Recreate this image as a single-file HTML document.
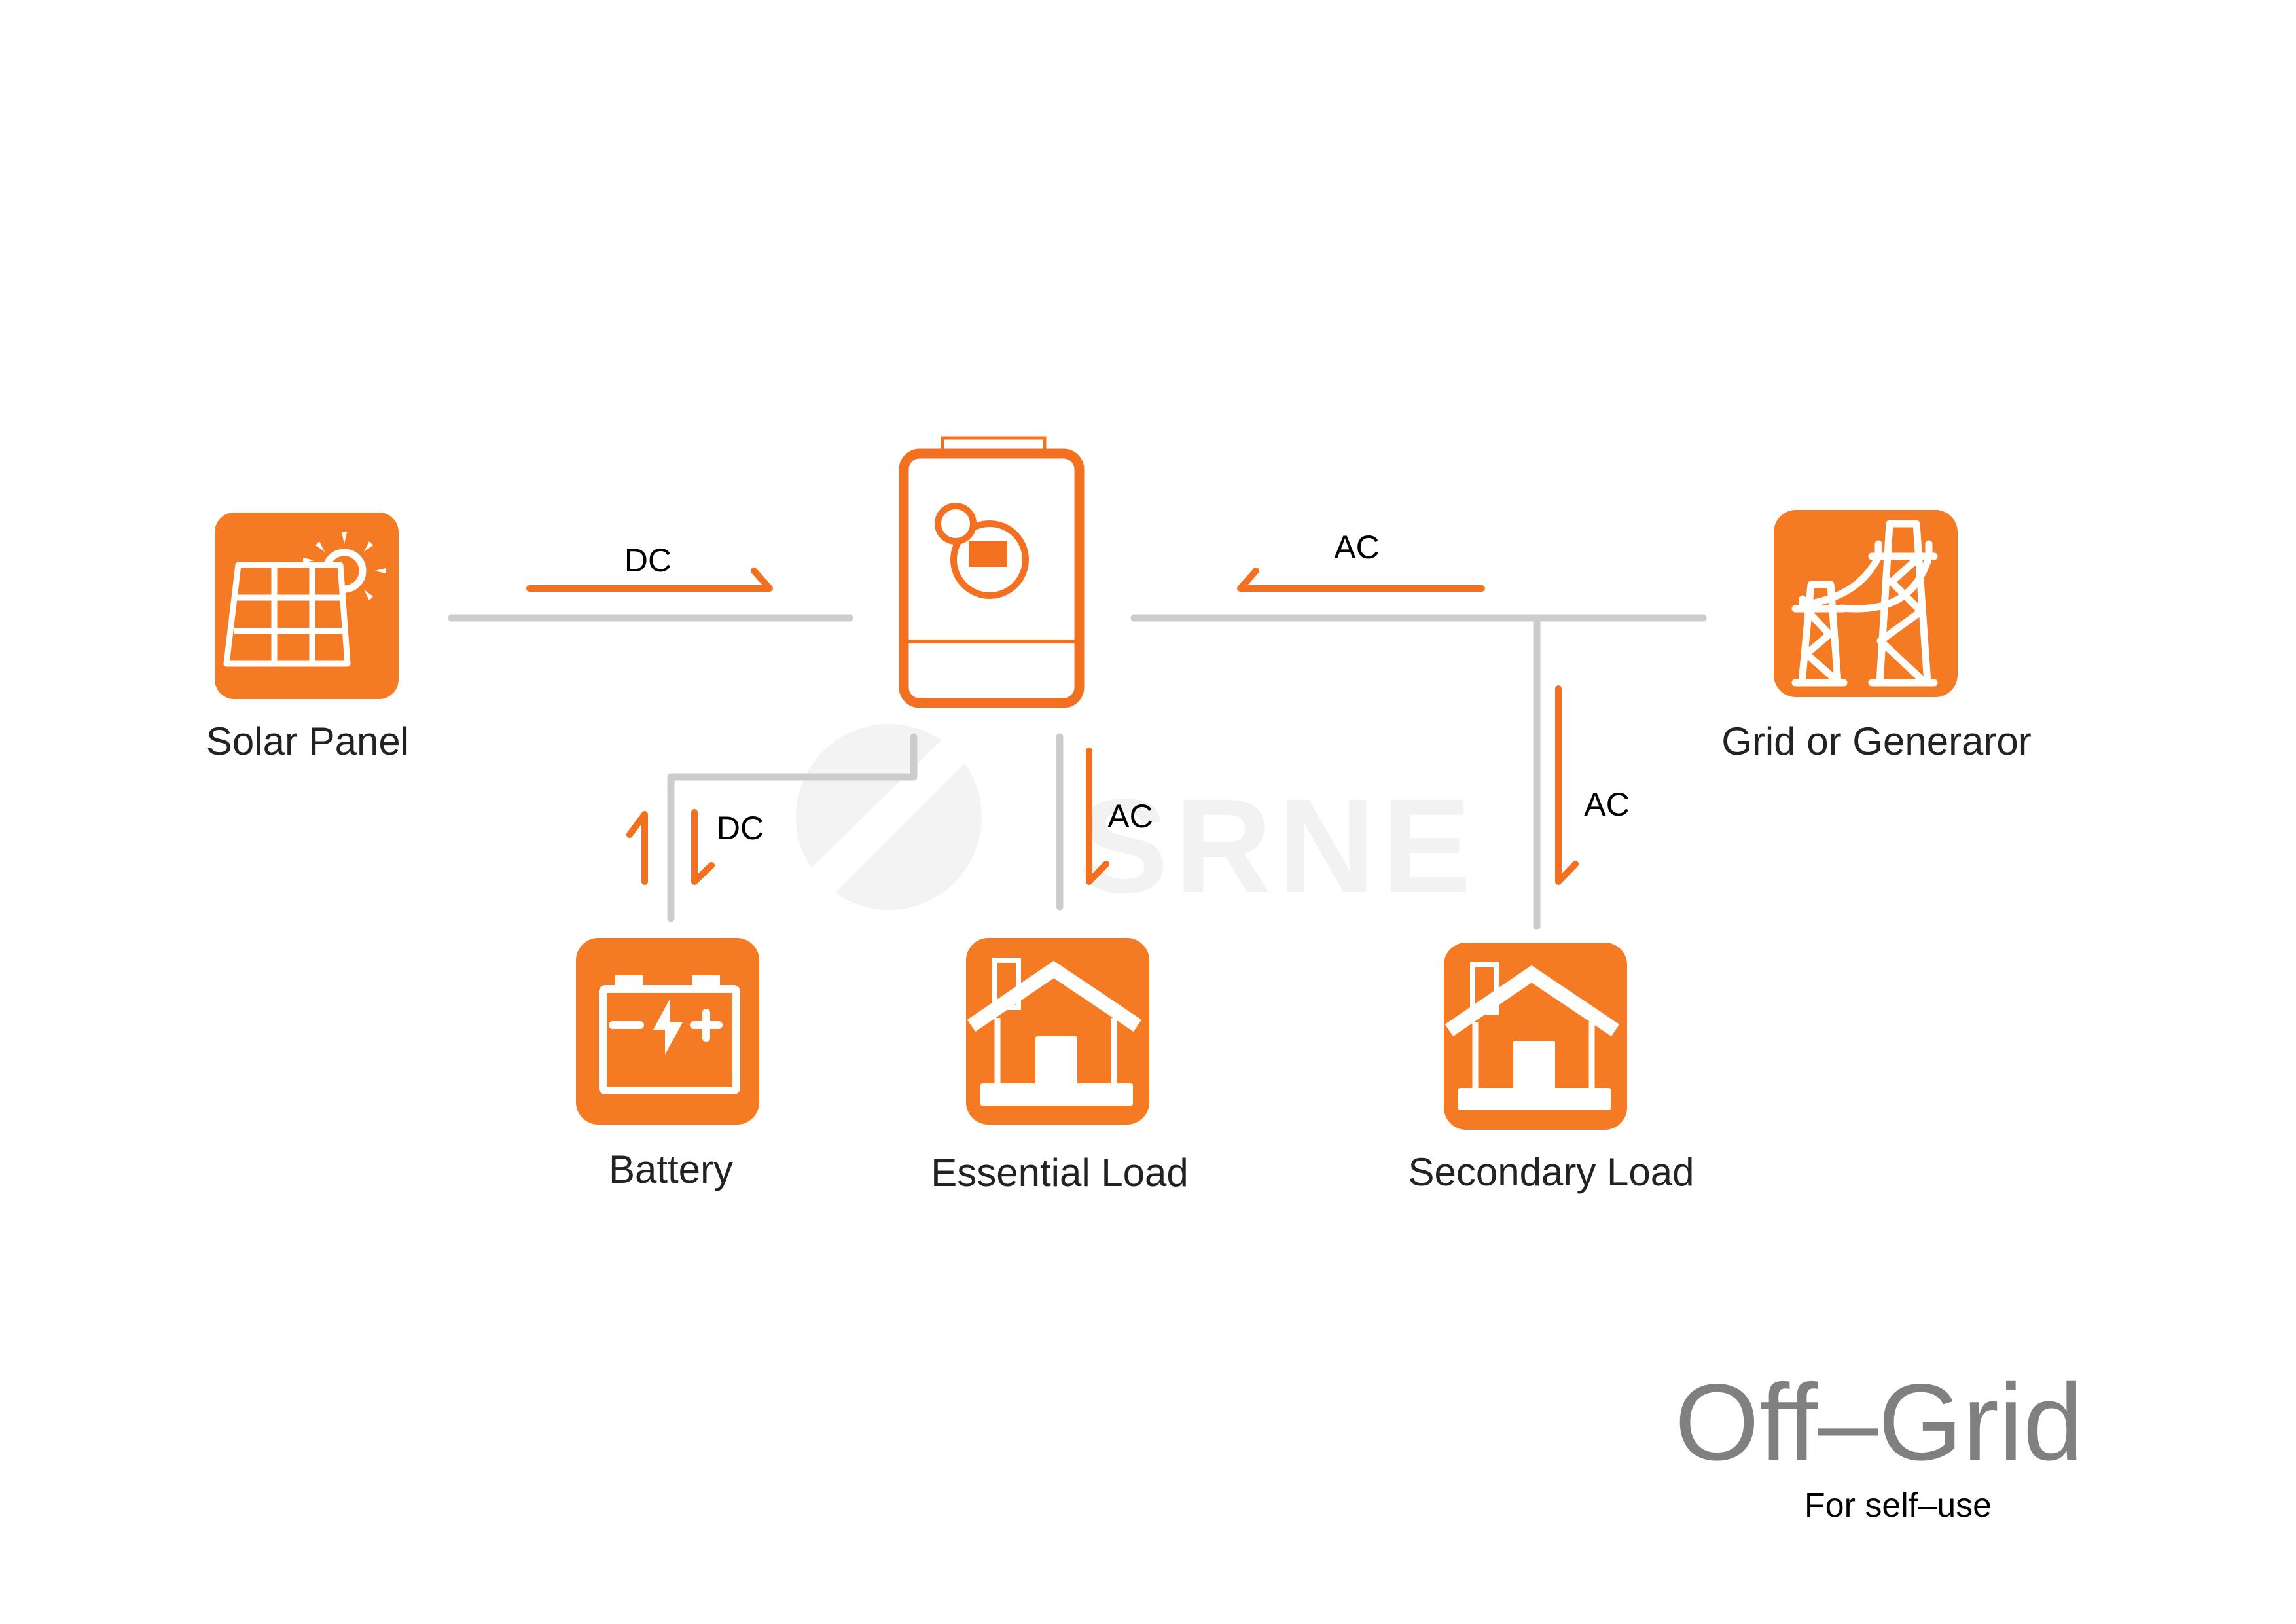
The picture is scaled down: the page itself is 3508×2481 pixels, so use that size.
<!DOCTYPE html>
<html><head><meta charset="utf-8"><style>
html,body{margin:0;padding:0;background:#fff;}
svg{display:block;}
text{font-family:"Liberation Sans",sans-serif;}
</style></head><body>
<svg width="3508" height="2481" viewBox="0 0 3508 2481" xmlns="http://www.w3.org/2000/svg">
<rect width="3508" height="2481" fill="#fff"/>
<g>
<circle cx="1358" cy="1248" r="142" fill="#f3f3f3"/>
<path d="M1215 1350 L1470 1100 L1510 1130 L1270 1370 Z" fill="#fff"/>
<text x="1953" y="1363" text-anchor="middle" font-size="205" font-weight="bold" fill="#f2f2f2" letter-spacing="10">SRNE</text>
</g>
<g stroke="#cccccc" stroke-width="11" stroke-linecap="round" fill="none">
<line x1="690" y1="944" x2="1298" y2="944"/>
<line x1="1733" y1="944" x2="2602" y2="944"/>
<line x1="2348" y1="944" x2="2348" y2="1415"/>
<line x1="1619" y1="1126" x2="1619" y2="1385"/>
<polyline points="1396,1126 1396,1187 1025,1187 1025,1403" stroke-linejoin="round"/>
</g>
<g stroke="#F37021" stroke-width="10" stroke-linecap="round" stroke-linejoin="round" fill="none">
<polyline points="809,899 1176,899 1152,872"/>
<polyline points="2264,899 1895,899 1919,872"/>
<polyline points="2381,1052 2381,1347 2407,1320"/>
<polyline points="1664,1147 1664,1347 1690,1320"/>
<polyline points="1061,1241 1061,1347 1087,1322"/>
<polyline points="985,1347 985,1244 962,1275"/>
</g>
<g font-size="50" fill="#000" text-anchor="middle">
<text x="990" y="873">DC</text>
<text x="2073" y="853">AC</text>
<text x="2455" y="1246">AC</text>
<text x="1727" y="1264">AC</text>
<text x="1131" y="1282">DC</text>
</g>
<g stroke="#F37021" fill="none">
<rect x="1440" y="669" width="156" height="22" stroke-width="5"/>
<rect x="1381" y="693" width="268" height="381" rx="24" stroke-width="15" fill="#fff"/>
<line x1="1381" y1="980" x2="1649" y2="980" stroke-width="6"/>
<circle cx="1512" cy="855" r="55" stroke-width="10"/>
<circle cx="1460" cy="800" r="27" stroke-width="10" fill="#fff"/>
</g>
<rect x="1480" y="826" width="59" height="40" fill="#F37021"/>
<g fill="#F47B23">
<rect x="328" y="783" width="281" height="285" rx="30"/>
<rect x="2710" y="779" width="281" height="286" rx="34"/>
<rect x="880" y="1433" width="280" height="285" rx="34"/>
<rect x="1476" y="1433" width="280" height="285" rx="34"/>
<rect x="2206" y="1440" width="280" height="286" rx="34"/>
</g>
<g transform="translate(328,783)" stroke="#fff" stroke-width="9" fill="none" stroke-linejoin="round">
<circle cx="198" cy="89" r="28" fill="#F47B23" stroke-width="11"/>
<polygon points="36,80 192,80 203,231 18,231" fill="#F47B23"/>
<line x1="33" y1="130" x2="197" y2="130"/>
<line x1="30" y1="181" x2="200" y2="181"/>
<line x1="91" y1="80" x2="91" y2="231"/>
<line x1="149" y1="80" x2="149" y2="231"/>
<g stroke="none" fill="#fff">
<polygon points="194,30 202,30 198,48"/>
<polygon points="262,85 262,93 244,89"/>
<polygon points="236,44 242,50 228,60"/>
<polygon points="236,134 242,128 228,118"/>
<polygon points="160,44 154,50 168,60"/>
<polygon points="135,69 135,77 152,73"/>
</g>
</g>
<g transform="translate(880,1433)">
<rect x="41" y="78" width="204" height="155" rx="4" stroke="#fff" stroke-width="12" fill="none"/>
<rect x="60" y="57" width="42" height="18" fill="#fff"/>
<rect x="178" y="57" width="42" height="18" fill="#fff"/>
<g stroke="#fff" stroke-width="12" stroke-linecap="round">
<line x1="56" y1="133" x2="98" y2="133"/>
<line x1="180" y1="133" x2="218" y2="133"/>
<line x1="199" y1="114" x2="199" y2="153"/>
</g>
<polygon points="144,92 118,140 136,140 136,178 163,129 144,129" fill="#fff"/>
</g>
<g id="house" transform="translate(1476,1433)">
<g stroke="#fff" fill="none">
<polyline points="8,134 134,48 262,134" stroke-width="22" stroke-linejoin="miter"/>
<line x1="48" y1="122" x2="48" y2="222" stroke-width="9"/>
<line x1="226" y1="122" x2="226" y2="222" stroke-width="9"/>
<rect x="44" y="34" width="36" height="72" stroke-width="8"/>
</g>
<rect x="22" y="222" width="233" height="34" rx="3" fill="#fff"/>
<rect x="106" y="150" width="64" height="75" rx="3" fill="#fff"/>
</g>
<use href="#house" transform="translate(730,7)"/>
<g transform="translate(2710,779)" stroke="#fff" stroke-width="11" fill="none" stroke-linecap="round" stroke-linejoin="round">
<polyline points="162,264 177,21 218,21 235,264"/>
<line x1="150" y1="264" x2="245" y2="264"/>
<line x1="150" y1="71" x2="245" y2="71"/>
<polyline points="218,76 180,110 225,155 163,200 225,258"/>
<polyline points="43,264 57,114 87,114 98,264"/>
<line x1="33" y1="151" x2="107" y2="151"/>
<line x1="33" y1="264" x2="107" y2="264"/>
<polyline points="52,155 85,190 50,220 93,258"/>
<path d="M58 143 C110 132 140 110 160 72"/>
<path d="M103 150 C160 155 215 145 237 72"/>
<line x1="160" y1="52" x2="160" y2="68"/>
<line x1="237" y1="52" x2="237" y2="68"/>
<line x1="44" y1="136" x2="44" y2="148"/>
</g>
<g font-size="60" fill="#222" text-anchor="middle">
<text x="470" y="1153">Solar Panel</text>
<text x="2867" y="1153">Grid or Generaror</text>
<text x="1025" y="1807">Battery</text>
<text x="1619" y="1812">Essential Load</text>
<text x="2370" y="1811">Secondary Load</text>
</g>
<text x="2871" y="2230" font-size="166" fill="#808080" text-anchor="middle">Off–Grid</text>
<text x="2900" y="2317" font-size="52" fill="#000" text-anchor="middle">For self–use</text>
</svg>
</body></html>
